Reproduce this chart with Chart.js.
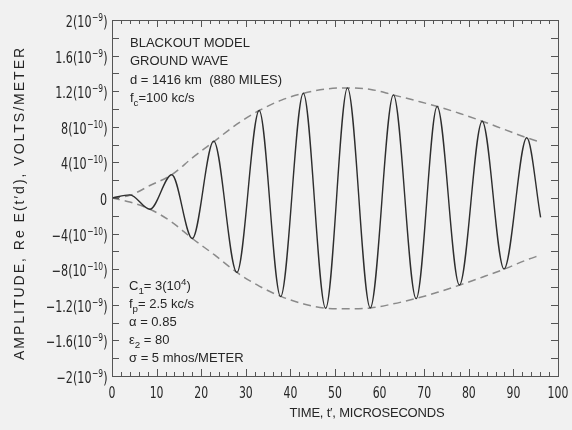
<!DOCTYPE html>
<html>
<head>
<meta charset="utf-8">
<script src="https://cdn.jsdelivr.net/npm/chart.js@4.4.1/dist/chart.umd.min.js"></script>
<style>
  html, body { margin: 0; padding: 0; background: #f1f1f1; }
  #wrap { width: 572px; height: 430px; position: relative; }
</style>
</head>
<body>
<div id="wrap"><canvas id="chart"></canvas></div>
<script>
// time in microseconds, amplitude in units of 1e-10 volts/meter
const waveTime = [0, 4, 8.5, 13.4, 18, 22.8, 28, 33, 37.8, 42.9, 47.9, 52.8, 57.9, 63.1, 68.2, 72.9, 77.9, 83, 87.9, 93, 96.1];
const waveAmp = [0, 0.35, -1.26, 2.62, -4.55, 6.39, -8.36, 9.83, -11.08, 11.77, -12.39, 12.37, -12.35, 11.59, -11.31, 10.28, -9.78, 8.63, -7.98, 6.77, -2.19];

const envTime = [0, 4, 8.5, 13.4, 18, 23, 28, 33, 38, 43, 48, 53, 58, 63, 68, 73, 78, 83, 88, 93, 96.1];
const upperEnv = [0, 0.3, 1.4, 2.62, 4.5, 6.4, 8.3, 9.83, 11.0, 11.77, 12.25, 12.37, 12.2, 11.59, 10.95, 10.28, 9.5, 8.63, 7.7, 6.77, 6.28];
const lowerEnv = [0, -0.45, -1.26, -2.7, -4.55, -6.4, -8.36, -9.9, -11.08, -11.9, -12.39, -12.45, -12.35, -11.9, -11.31, -10.6, -9.78, -8.9, -7.98, -6.95, -6.41];

// y tick labels are written as mantissa(10^exp)
const yTickValues = [-20, -16, -12, -8, -4, 0, 4, 8, 12, 16, 20];
const yTickMant = ['\u22122', '\u22121.6', '\u22121.2', '\u22128', '\u22124', '0', '4', '8', '1.2', '1.6', '2'];
const yTickExp = ['\u22129', '\u22129', '\u22129', '\u221210', '\u221210', '', '\u221210', '\u221210', '\u22129', '\u22129', '\u22129'];
const xTickValues = [0, 10, 20, 30, 40, 50, 60, 70, 80, 90, 100];

const xTitle = 'TIME, t\u2032, MICROSECONDS';
const yTitle = 'AMPLITUDE, Re E(t\u2032d), VOLTS/METER';

// notes: runs of [text, kind] where kind is n / sub / sup
const topNotes = [
  [['BLACKOUT MODEL', 'n']],
  [['GROUND WAVE', 'n']],
  [['d = 1416 km  (880 MILES)', 'n']],
  [['f', 'n'], ['c', 'sub'], ['=100 kc/s', 'n']]
];
const bottomNotes = [
  [['C', 'n'], ['1', 'sub'], ['= 3(10', 'n'], ['4', 'sup'], [')', 'n']],
  [['f', 'n'], ['p', 'sub'], ['= 2.5 kc/s', 'n']],
  [['\u03B1 = 0.85', 'n']],
  [['\u03B5', 'n'], ['2', 'sub'], [' = 80', 'n']],
  [['\u03C3 = 5 mhos/METER', 'n']]
];

const INK = '#262626';
const tickFont = '"DejaVu Sans Condensed", "DejaVu Sans", sans-serif';
const textFont = '"Liberation Sans", Arial, sans-serif';

function pairs(xs, ys) {
  return xs.map((x, i) => ({ x: x, y: ys[i] }));
}

function drawRuns(ctx, runs, x, y, size) {
  runs.forEach(([txt, kind]) => {
    let s = size, dy = 0;
    if (kind === 'sub') { s = size * 0.75; dy = size * 0.3; }
    if (kind === 'sup') { s = size * 0.75; dy = -size * 0.4; }
    ctx.font = s + 'px ' + textFont;
    ctx.fillText(txt, x, y + dy);
    x += ctx.measureText(txt).width;
  });
}

// narrow lettering for the tick numbers: squeeze horizontally about x
function narrowText(ctx, txt, x, y, size, sx) {
  ctx.save();
  ctx.font = size + 'px ' + tickFont;
  ctx.translate(x, y);
  ctx.scale(sx, 1);
  ctx.fillText(txt, 0, 0);
  ctx.restore();
}
function narrowWidth(ctx, txt, size, sx) {
  ctx.font = size + 'px ' + tickFont;
  return ctx.measureText(txt).width * sx;
}

// frame, inward tick marks, tick labels, axis titles and notes
const framePlugin = {
  id: 'frame',
  afterDraw(chart) {
    const ctx = chart.ctx;
    const a = chart.chartArea;
    const xs = chart.scales.x, ys = chart.scales.y;
    ctx.save();
    ctx.strokeStyle = '#555';
    ctx.lineWidth = 1;
    ctx.strokeRect(Math.round(a.left) + 0.5, Math.round(a.top) + 0.5, Math.round(a.right - a.left), Math.round(a.bottom - a.top));
    ctx.beginPath();
    xs.ticks.forEach(t => {
      const px = Math.round(xs.getPixelForValue(t.value)) + 0.5;
      const len = t.value % 10 === 0 ? 7 : 4;
      ctx.moveTo(px, a.bottom); ctx.lineTo(px, a.bottom - len);
      ctx.moveTo(px, a.top); ctx.lineTo(px, a.top + len);
    });
    ys.ticks.forEach(t => {
      const py = Math.round(ys.getPixelForValue(t.value)) + 0.5;
      ctx.moveTo(a.left, py); ctx.lineTo(a.left + 7, py);
      ctx.moveTo(a.right, py); ctx.lineTo(a.right - 7, py);
    });
    ctx.stroke();

    ctx.fillStyle = INK;
    ctx.textBaseline = 'alphabetic';
    ctx.textAlign = 'left';

    // x tick numbers
    xTickValues.forEach(v => {
      const txt = String(v);
      const w = narrowWidth(ctx, txt, 15.5, 0.78);
      narrowText(ctx, txt, xs.getPixelForValue(v) - w / 2, a.bottom + 21.5, 15.5, 0.78);
    });
    // y tick numbers with raised exponent
    yTickValues.forEach((v, i) => {
      const py = ys.getPixelForValue(v) + 7;
      const head = yTickExp[i] ? yTickMant[i] + '(10' : yTickMant[i];
      const exp = yTickExp[i];
      const tail = yTickExp[i] ? ')' : '';
      const w1 = narrowWidth(ctx, head, 15.5, 0.8);
      const w2 = exp ? narrowWidth(ctx, exp, 10.5, 0.8) : 0;
      const w3 = tail ? narrowWidth(ctx, tail, 15.5, 0.8) : 0;
      let x = a.left - 5 - (w1 + w2 + w3);
      narrowText(ctx, head, x, py, 15.5, 0.8); x += w1 + 0.5;
      if (exp) { narrowText(ctx, exp, x, py - 6, 10.5, 0.8); x += w2; }
      if (tail) narrowText(ctx, tail, x, py, 15.5, 0.8);
    });

    ctx.fillStyle = INK;
    topNotes.forEach((runs, i) => drawRuns(ctx, runs, a.left + 18, a.top + 27 + i * 18.3, 13));
    bottomNotes.forEach((runs, i) => drawRuns(ctx, runs, a.left + 17, a.bottom - 86 + i * 18, 13));

    ctx.font = '13px ' + textFont;
    ctx.letterSpacing = '-0.2px';
    ctx.textAlign = 'center';
    ctx.textBaseline = 'middle';
    ctx.fillText(xTitle, 367, 413);
    ctx.font = '14px ' + textFont;
    ctx.letterSpacing = '2px';
    ctx.translate(20, (a.top + a.bottom) / 2 + 5);
    ctx.rotate(-Math.PI / 2);
    ctx.fillText(yTitle, 0, 0);
    ctx.restore();
  }
};

new Chart(document.getElementById('chart'), {
  type: 'line',
  data: {
    datasets: [
      {
        label: 'Re E',
        data: pairs(waveTime, waveAmp),
        borderColor: '#2e2e2e',
        borderWidth: 1.4,
        pointRadius: 0,
        cubicInterpolationMode: 'monotone'
      },
      {
        label: 'upper envelope',
        data: pairs(envTime, upperEnv),
        borderColor: '#8a8a8a',
        borderWidth: 1.5,
        borderDash: [8, 5],
        pointRadius: 0,
        cubicInterpolationMode: 'monotone'
      },
      {
        label: 'lower envelope',
        data: pairs(envTime, lowerEnv),
        borderColor: '#8a8a8a',
        borderWidth: 1.5,
        borderDash: [8, 5],
        pointRadius: 0,
        cubicInterpolationMode: 'monotone'
      }
    ]
  },
  options: {
    responsive: true,
    maintainAspectRatio: false,
    animation: false,
    layout: { padding: { left: 0, right: 14, top: 20, bottom: 0 } },
    plugins: { legend: { display: false }, tooltip: { enabled: false } },
    scales: {
      x: {
        type: 'linear',
        min: 0,
        max: 100,
        grid: { display: false },
        border: { display: false },
        ticks: { stepSize: 2, autoSkip: false, display: false },
        afterFit: s => { s.height = 54; }
      },
      y: {
        min: -20,
        max: 20,
        grid: { display: false },
        border: { display: false },
        ticks: { stepSize: 2, autoSkip: false, display: false },
        afterFit: s => { s.width = 112; }
      }
    }
  },
  plugins: [framePlugin]
});
</script>
</body>
</html>
